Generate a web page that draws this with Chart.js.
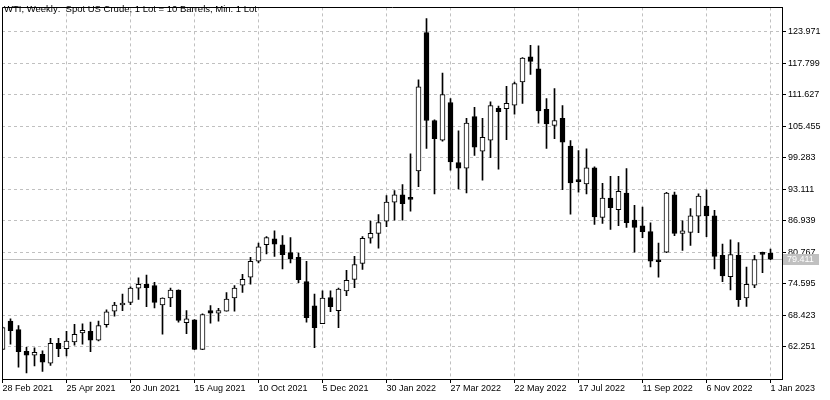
<!DOCTYPE html>
<html>
<head>
<meta charset="utf-8">
<script src="https://cdn.jsdelivr.net/npm/chart.js@4.4.0/dist/chart.umd.min.js"></script>
<style>
html,body{margin:0;padding:0;background:#fff;}
#wrap{width:830px;height:400px;position:relative;}
</style>
</head>
<body>
<div id="wrap"><canvas id="c" width="830" height="400"></canvas></div>
<script>
const titleText = 'WTI, Weekly:  Spot US Crude, 1 Lot = 10 Barrels, Min: 1 Lot';
const dateTickLabels = ['28 Feb 2021','25 Apr 2021','20 Jun 2021','15 Aug 2021','10 Oct 2021','5 Dec 2021','30 Jan 2022','27 Mar 2022','22 May 2022','17 Jul 2022','11 Sep 2022','6 Nov 2022','1 Jan 2023'];
const priceTicks = [62.251, 68.423, 74.595, 80.767, 86.939, 93.111, 99.283, 105.455, 111.627, 117.799, 123.971];
const lastPrice = 79.411;

const opens = [
 61.75, 67.27, 65.61, 61.36, 60.59, 60.78, 59.05, 62.91, 61.87, 63.22,
 64.96, 65.28, 63.55, 66.58, 69.21, 70.44, 70.95, 73.73, 74.50, 74.23,
 70.44, 71.80, 73.35, 66.97, 67.55, 61.75, 69.34, 68.82, 69.21, 71.80,
 74.31, 75.91, 79.01, 82.23, 83.39, 82.23, 80.69, 79.78, 75.00, 70.25,
 66.77, 71.91, 69.34, 73.21, 75.47, 78.56, 83.51, 84.47, 86.87, 90.60,
 92.01, 91.37, 96.72, 123.78, 106.58, 102.71, 110.10, 98.33, 97.23, 107.35,
 100.59, 102.71, 108.96, 108.90, 109.59, 114.12, 119.06, 116.69, 108.76, 105.61,
 107.02, 101.55, 94.79, 94.14, 97.30, 87.57, 91.37, 89.11, 92.34, 87.06,
 85.96, 84.80, 79.10, 80.80, 92.01, 84.47, 84.67, 87.83, 89.83, 87.89,
 80.16, 75.97, 80.16, 71.80, 74.31, 80.49, 80.61
];
const highs = [
 66.10, 67.74, 66.39, 62.14, 62.06, 61.48, 63.93, 63.93, 65.28, 66.64,
 66.77, 67.08, 67.27, 69.48, 70.95, 72.57, 73.98, 75.78, 76.30, 74.89,
 71.85, 73.73, 73.40, 69.34, 67.60, 68.70, 70.31, 69.79, 72.88, 74.23,
 76.43, 79.78, 82.54, 83.84, 84.94, 84.03, 83.64, 80.61, 79.01, 72.57,
 73.21, 73.21, 73.73, 77.21, 79.97, 83.84, 86.87, 88.15, 91.89, 92.86,
 94.02, 100.07, 114.56, 126.54, 106.70, 115.85, 110.89, 104.57, 107.02, 109.15,
 107.02, 110.25, 109.40, 113.27, 114.12, 118.90, 121.32, 121.19, 110.89, 112.82,
 109.48, 102.64, 100.70, 101.03, 97.50, 94.27, 95.62, 95.62, 97.17, 89.96,
 89.63, 86.54, 82.54, 92.50, 92.53, 86.93, 89.30, 92.20, 92.98, 88.99,
 82.35, 83.20, 82.68, 77.85, 80.16, 80.80, 81.38
];
const lows = [
 61.70, 62.77, 58.27, 57.11, 58.52, 57.42, 58.58, 60.32, 60.46, 62.58,
 62.77, 61.28, 63.42, 66.11, 68.24, 69.34, 70.50, 71.53, 70.12, 69.86,
 64.71, 70.12, 67.08, 64.84, 61.70, 61.70, 66.89, 67.27, 69.21, 69.21,
 72.88, 74.50, 78.68, 80.42, 79.97, 77.52, 78.68, 74.81, 67.08, 62.06,
 66.77, 69.15, 66.00, 72.24, 73.84, 77.40, 82.54, 81.57, 85.77, 87.06,
 87.06, 88.80, 93.63, 101.09, 92.20, 102.52, 96.84, 93.17, 92.40, 99.74,
 94.91, 99.30, 97.03, 102.83, 107.80, 109.92, 115.58, 106.06, 101.09, 103.02,
 93.05, 88.22, 92.53, 92.20, 86.21, 86.41, 85.24, 85.96, 85.63, 80.80,
 83.64, 77.90, 75.91, 80.70, 84.03, 81.13, 82.10, 84.61, 83.84, 77.52,
 75.00, 73.40, 70.17, 70.17, 73.84, 76.75, 79.30
];
const closes = [
 66.00, 65.42, 61.28, 60.59, 61.17, 59.24, 62.91, 61.87, 63.35, 64.71,
 65.48, 63.55, 66.39, 69.09, 70.44, 70.83, 73.73, 74.50, 73.84, 70.95,
 71.80, 73.35, 67.41, 67.74, 61.75, 68.57, 68.82, 69.34, 71.60, 73.73,
 75.47, 79.01, 81.84, 83.64, 82.35, 80.30, 79.53, 75.39, 67.93, 66.00,
 71.80, 70.12, 73.54, 75.27, 78.37, 83.51, 84.47, 86.60, 90.60, 92.01,
 90.27, 91.12, 113.15, 106.58, 103.02, 111.66, 98.46, 97.23, 106.06, 101.36,
 103.29, 109.48, 108.32, 109.92, 113.79, 118.81, 118.17, 108.43, 105.92, 106.58,
 102.33, 94.33, 94.60, 97.30, 87.70, 91.37, 89.50, 92.72, 86.54, 85.63,
 84.80, 79.01, 78.91, 92.34, 84.47, 84.94, 87.89, 91.76, 87.89, 79.97,
 76.11, 80.30, 71.47, 74.50, 79.33, 80.36, 79.411
];

const FONT = {family: '"Liberation Sans", Arial, sans-serif', size: 9};
const idx = opens.map((_, i) => i);
const wickData = idx.map(i => ({x: i, y: [lows[i], highs[i]]}));
const bodyData = idx.map(i => ({x: i, y: [opens[i], closes[i]]}));
const bodyFill = idx.map(i => closes[i] > opens[i] ? '#ffffff' : '#000000');

const mtPlugin = {
  id: 'mt',
  beforeDraw(chart) {
    const c = chart.ctx;
    c.save();
    c.fillStyle = '#ffffff';
    c.fillRect(0, 0, chart.width, chart.height);
    c.restore();
  },
  beforeDatasetsDraw(chart) {
    const c = chart.ctx, a = chart.chartArea;
    const py = Math.round(chart.scales.y.getPixelForValue(lastPrice)) + 0.5;
    c.save();
    c.strokeStyle = '#c0c0c0';
    c.lineWidth = 1;
    c.beginPath();
    c.moveTo(a.left, py);
    c.lineTo(a.right, py);
    c.stroke();
    c.restore();
  },
  afterDraw(chart) {
    const c = chart.ctx, a = chart.chartArea;
    c.save();
    c.strokeStyle = '#000000';
    c.lineWidth = 1;
    c.beginPath();
    c.moveTo(Math.round(a.left) + 0.5, Math.round(a.bottom) + 0.5);
    c.lineTo(Math.round(a.left) + 0.5, Math.round(a.top) + 0.5);
    c.lineTo(Math.round(a.right) + 0.5, Math.round(a.top) + 0.5);
    c.stroke();
    // title
    c.fillStyle = '#000000';
    c.font = '9.5px "Liberation Sans", Arial, sans-serif';
    c.textBaseline = 'alphabetic';
    c.textAlign = 'left';
    c.fillText(titleText, 4, 12);
    // last price label
    const py = Math.round(chart.scales.y.getPixelForValue(lastPrice));
    c.font = '9px "Liberation Sans", Arial, sans-serif';
    c.fillStyle = '#c0c0c0';
    c.fillRect(Math.round(a.right) + 1, py - 5, 36, 11);
    c.fillStyle = '#ffffff';
    c.textBaseline = 'middle';
    c.fillText(lastPrice.toFixed(3), Math.round(a.right) + 5, py + 0.5);
    c.restore();
  }
};

new Chart(document.getElementById('c'), {
  type: 'bar',
  data: {
    datasets: [
      {label: 'wick', data: wickData, backgroundColor: '#000000', borderWidth: 0, barThickness: 1, grouped: false, order: 2},
      {label: 'body', data: bodyData, backgroundColor: bodyFill, borderColor: '#000000', borderWidth: 1, borderSkipped: false, barThickness: 5, minBarLength: 2, grouped: false, order: 1}
    ]
  },
  options: {
    responsive: false,
    animation: false,
    devicePixelRatio: 1,
    layout: {padding: {left: 2, top: 3, right: 0, bottom: 0}},
    plugins: {legend: {display: false}, tooltip: {enabled: false}, title: {display: false}},
    scales: {
      x: {
        type: 'linear', min: -0.0625, max: 97.4375, offset: false,
        afterBuildTicks: s => { s.ticks = dateTickLabels.map((_, k) => ({value: k * 8})); },
        afterFit: s => { s.height = 21; },
        ticks: {autoSkip: false, maxRotation: 0, minRotation: 0, align: 'start', padding: 0, color: '#000000', font: FONT,
                callback: v => dateTickLabels[Math.round(v / 8)]},
        grid: {offset: false, color: '#c0c0c0', lineWidth: 1, drawTicks: true, tickLength: 4, tickColor: '#000000', tickBorderDash: [], tickWidth: 1},
        border: {display: true, color: '#000000', width: 1, dash: [3, 3]}
      },
      y: {
        type: 'linear', position: 'right', min: 55.94, max: 128.73, beginAtZero: false,
        afterBuildTicks: s => { s.ticks = priceTicks.map(v => ({value: v})); },
        afterFit: s => { s.width = 48; },
        ticks: {autoSkip: false, padding: 2, color: '#000000', font: FONT, callback: v => Number(v).toFixed(3)},
        grid: {color: '#c0c0c0', lineWidth: 1, drawTicks: true, tickLength: 4, tickColor: '#000000', tickBorderDash: [], tickWidth: 1},
        border: {display: true, color: '#000000', width: 1, dash: [3, 3]}
      }
    }
  },
  plugins: [mtPlugin]
});
</script>
</body>
</html>
